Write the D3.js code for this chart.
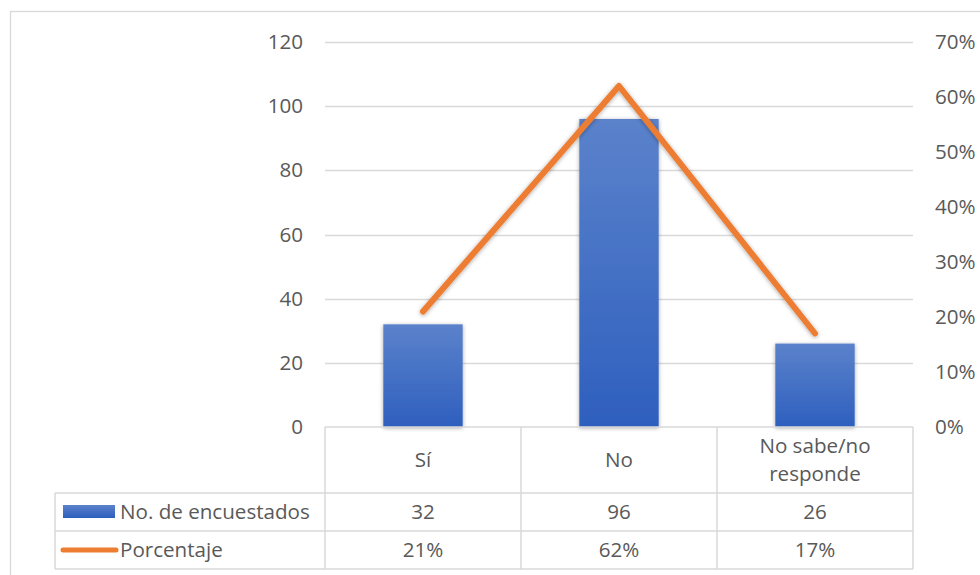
<!DOCTYPE html>
<html>
<head>
<meta charset="utf-8">
<script src="https://cdn.jsdelivr.net/npm/d3@7"></script>
<style>
  html, body { margin: 0; padding: 0; background: #fff; }
  svg { display: block; }
  text { font-family: "Open Sans", Lato, sans-serif; fill: #595959; }
</style>
</head>
<body>
<svg id="chart" width="980" height="575"></svg>
<script>
// Survey results: respondents per answer and share of total
const categories = ["Sí", "No", "No sabe/no responde"];
const categoryLines = [["Sí"], ["No"], ["No sabe/no", "responde"]];
const respondents = [32, 96, 26];
const percentages = [0.21, 0.62, 0.17];
const countTicks = [0, 20, 40, 60, 80, 100, 120];
const pctTicks = [0, 0.1, 0.2, 0.3, 0.4, 0.5, 0.6, 0.7];
const seriesNames = ["No. de encuestados", "Porcentaje"];

const svg = d3.select("#chart");
const W = 980, H = 575;
const FONT = "20.6px";
const plot = { left: 325, right: 913, top: 42, bottom: 427 };
const table = { left: 55, rows: [427, 493, 531, 569] };
const orange = "#ed7d31", grid = "#d9d9d9";

// Outer chart frame
svg.append("rect")
  .attr("x", 10.5).attr("y", 11.5)
  .attr("width", W).attr("height", H)
  .attr("fill", "none").attr("stroke", grid).attr("stroke-width", 1.3);

const defs = svg.append("defs");
const grad = defs.append("linearGradient").attr("id", "barGrad")
  .attr("x1", 0).attr("y1", 0).attr("x2", 0).attr("y2", 1);
grad.append("stop").attr("offset", "0%").attr("stop-color", "#5b82cb");
grad.append("stop").attr("offset", "100%").attr("stop-color", "#2e5fbe");

const shadow = defs.append("filter").attr("id", "shadow")
  .attr("x", "-20%").attr("y", "-20%").attr("width", "140%").attr("height", "140%");
shadow.append("feDropShadow")
  .attr("dx", 0).attr("dy", 1).attr("stdDeviation", 2)
  .attr("flood-color", "#000").attr("flood-opacity", 0.35);

const x = d3.scaleBand().domain(categories).range([plot.left, plot.right]);
const yCount = d3.scaleLinear().domain([0, 120]).range([plot.bottom, plot.top]);
const yPct = d3.scaleLinear().domain([0, 0.7]).range([plot.bottom, plot.top]);

// Gridlines
svg.append("g").selectAll("line").data(countTicks.filter(d => d > 0)).join("line")
  .attr("x1", plot.left).attr("x2", plot.right)
  .attr("y1", d => Math.round(yCount(d)) + 0.5).attr("y2", d => Math.round(yCount(d)) + 0.5)
  .attr("stroke", grid).attr("stroke-width", 1.5);

// Left axis
const leftAxis = svg.append("g")
  .attr("transform", `translate(${plot.left},0)`)
  .call(d3.axisLeft(yCount).tickValues(countTicks).tickSize(0).tickPadding(22));
leftAxis.select(".domain").remove();
leftAxis.selectAll("text").style("font-size", FONT).attr("fill", "#595959")
  .style("font-family", "'Open Sans', Lato, sans-serif");

// Right axis
const rightAxis = svg.append("g")
  .attr("transform", `translate(${plot.right},0)`)
  .call(d3.axisRight(yPct).tickValues(pctTicks).tickFormat(d3.format(".0%")).tickSize(0).tickPadding(22));
rightAxis.select(".domain").remove();
rightAxis.selectAll("text").style("font-size", FONT).attr("fill", "#595959")
  .style("font-family", "'Open Sans', Lato, sans-serif");

// Bars
const barW = x.bandwidth() * 0.405;
svg.append("g").selectAll("rect").data(respondents).join("rect")
  .attr("x", (d, i) => x(categories[i]) + (x.bandwidth() - barW) / 2)
  .attr("y", d => yCount(d))
  .attr("width", barW)
  .attr("height", d => plot.bottom - yCount(d))
  .attr("fill", "url(#barGrad)")
  .attr("filter", "url(#shadow)");

// Percentage line
const line = d3.line()
  .x((d, i) => x(categories[i]) + x.bandwidth() / 2)
  .y(d => yPct(d));
svg.append("path").datum(percentages)
  .attr("d", line)
  .attr("fill", "none").attr("stroke", orange).attr("stroke-width", 6)
  .attr("stroke-linejoin", "round").attr("stroke-linecap", "round")
  .attr("filter", "url(#shadow)");

// Data table
const tg = svg.append("g");
const lineStyle = sel => sel.attr("stroke", grid).attr("stroke-width", 1.5).attr("fill", "none");
// Horizontal rules
tg.append("line").attr("x1", plot.left).attr("x2", plot.right)
  .attr("y1", table.rows[0]).attr("y2", table.rows[0]).call(lineStyle);
[1, 2, 3].forEach(r => {
  tg.append("line").attr("x1", table.left).attr("x2", plot.right)
    .attr("y1", table.rows[r]).attr("y2", table.rows[r]).call(lineStyle);
});
// Vertical rules
tg.append("line").attr("x1", table.left).attr("x2", table.left)
  .attr("y1", table.rows[1]).attr("y2", table.rows[3]).call(lineStyle);
categories.forEach((c, i) => {
  tg.append("line").attr("x1", x(c)).attr("x2", x(c))
    .attr("y1", table.rows[0]).attr("y2", table.rows[3]).call(lineStyle);
});
tg.append("line").attr("x1", plot.right).attr("x2", plot.right)
  .attr("y1", table.rows[0]).attr("y2", table.rows[3]).call(lineStyle);

// Category labels
categories.forEach((c, i) => {
  const lines = categoryLines[i];
  const cx = x(c) + x.bandwidth() / 2;
  const mid = (table.rows[0] + table.rows[1]) / 2;
  lines.forEach((t, j) => {
    tg.append("text")
      .attr("x", cx)
      .attr("y", mid + (j - (lines.length - 1) / 2) * 28)
      .attr("dy", "0.35em")
      .attr("text-anchor", "middle")
      .style("font-size", FONT)
      .text(t);
  });
});

// Value rows
const rowData = [respondents.map(String), percentages.map(d3.format(".0%"))];
rowData.forEach((vals, r) => {
  const mid = (table.rows[r + 1] + table.rows[r + 2]) / 2;
  vals.forEach((v, i) => {
    tg.append("text")
      .attr("x", x(categories[i]) + x.bandwidth() / 2)
      .attr("y", mid).attr("dy", "0.35em")
      .attr("text-anchor", "middle")
      .style("font-size", FONT)
      .text(v);
  });
  // Legend key + series name
  if (r === 0) {
    tg.append("rect").attr("x", 63).attr("y", mid - 7).attr("width", 52).attr("height", 13)
      .attr("fill", "url(#barGrad)");
  } else {
    tg.append("line").attr("x1", 63).attr("x2", 116).attr("y1", mid).attr("y2", mid)
      .attr("stroke", orange).attr("stroke-width", 5).attr("stroke-linecap", "round");
  }
  tg.append("text")
    .attr("x", 120).attr("y", mid).attr("dy", "0.35em")
    .style("font-size", FONT)
    .text(seriesNames[r]);
});
</script>
</body>
</html>
